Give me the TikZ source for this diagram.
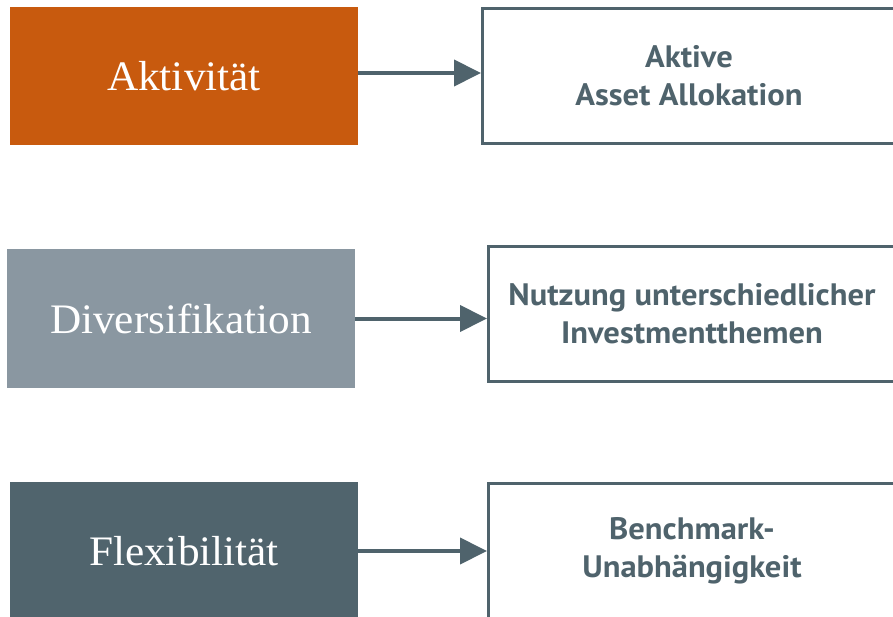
\documentclass[tikz,border=0pt]{standalone}
\usepackage{fontspec}
\setmainfont{Liberation Serif}[FakeStretch=1.03]
\newfontfamily\rfont{PT Sans}[FakeStretch=1.05]
\usetikzlibrary{arrows.meta}
\definecolor{corange}{HTML}{C85A0E}
\definecolor{cgrey}{HTML}{8A97A1}
\definecolor{cdark}{HTML}{50646D}
\definecolor{cline}{HTML}{4F636C}
\tikzset{
  leftbox/.style={rectangle, inner sep=0pt, minimum width=348pt, minimum height=138pt,
    text=white, font=\fontsize{42}{46}\selectfont},
  rightbox/.style={rectangle, draw=cline, line width=3pt, fill=white, inner sep=0pt,
    minimum width=407pt, minimum height=135pt, align=center, text=cline,
    font=\rfont\bfseries\fontsize{31}{38}\selectfont},
  arr/.style={draw=cline, line width=4pt, -{Triangle[length=27pt,width=26pt]}}
}
\begin{document}
\begin{tikzpicture}[x=1pt,y=-1pt]
\useasboundingbox (0,0) rectangle (893,617);
\begin{scope}
\clip (0,0) rectangle (893,617);
\node[leftbox, fill=corange] (a1) at (184,76) {Aktivität};
\node[leftbox, fill=cgrey] (a2) at (181,318.5) {Diversifikation};
\node[leftbox, fill=cdark] (a3) at (184,551) {Flexibilität};
\node[rightbox, minimum width=413pt] (b1) at (689,76) {Aktive\\Asset Allokation};
\node[rightbox] (b2) at (692,314) {Nutzung unterschiedlicher\\Investmentthemen};
\node[rightbox] (b3) at (692,551) {Benchmark-\\Unabhängigkeit};
\draw[arr] ([yshift=3pt]a1.east) -- ([yshift=3pt]b1.west);
\draw[arr] (a2.east) -- (a2.east -| b2.west);
\draw[arr] (a3.east) -- (a3.east -| b3.west);
\end{scope}
\end{tikzpicture}
\end{document}
